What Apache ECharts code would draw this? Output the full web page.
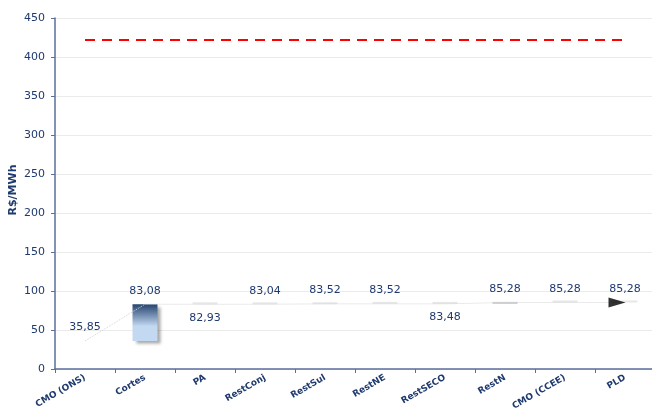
<!DOCTYPE html>
<html>
<head>
<meta charset="utf-8">
<script src="https://cdn.jsdelivr.net/npm/echarts@6/dist/echarts.min.js"></script>
<style>
  html, body { margin: 0; padding: 0; background: #fff; }
  #chart { width: 652px; height: 412px; }
</style>
</head>
<body>
<div id="chart"></div>
<script>
  // categories and values
  const categories = ['CMO (ONS)', 'Cortes', 'PA', 'RestConj', 'RestSul', 'RestNE', 'RestSECO', 'RestN', 'CMO (CCEE)', 'PLD'];
  const values = [35.85, 83.08, 82.93, 83.04, 83.52, 83.52, 83.48, 85.28, 85.28, 85.28];
  const pldMax = 422.56;
  const yTicks = { min: 0, max: 450, interval: 50 };
  const yName = 'R$/MWh';

  const navy = '#1f3a6e';
  const axisColor = '#5b6f9c';
  const last = values.length - 1;

  // waterfall: invisible base + visible step
  const base = values.map((v, i) => i === 0 ? 0 : Math.min(values[i - 1], v));
  const step = values.map((v, i) => i === 0 ? v : Math.abs(v - values[i - 1]));

  const stepData = step.map((v, i) => {
    if (i === 0) return { value: v, itemStyle: { color: 'rgba(0,0,0,0)' } };
    if (i === 1) return {
      value: v,
      itemStyle: {
        color: new echarts.graphic.LinearGradient(0, 0, 0, 1, [
          { offset: 0, color: '#24436f' },
          { offset: 0.6, color: '#c3d9f1' },
          { offset: 1, color: '#c3d9f1' }
        ]),
        shadowColor: 'rgba(0,0,0,0.35)',
        shadowBlur: 3,
        shadowOffsetX: 3,
        shadowOffsetY: 3
      }
    };
    return { value: v, itemStyle: { color: i === 7 ? 'rgba(190,190,190,0.8)' : 'rgba(215,215,215,0.6)' } };
  });

  const lineData = values.map((v, i) => {
    const down = i > 0 && v < values[i - 1];
    return { value: v, label: { position: down ? 'bottom' : 'top' } };
  });

  const arrowData = values.map((v, i) => i === last ? v : '-');

  const chart = echarts.init(document.getElementById('chart'));
  chart.setOption({
    animation: false,
    textStyle: { fontFamily: 'DejaVu Sans' },
    grid: { left: 55, top: 18, width: 600, bottom: 43, containLabel: false, outerBoundsMode: 'none' },
    // y axis title, placed by hand so v6 does not push it away from the labels
    graphic: [{
      type: 'text',
      x: 13, y: 190,
      rotation: Math.PI / 2,
      style: {
        text: yName, fill: navy,
        font: 'bold 11px "DejaVu Sans"',
        align: 'center', verticalAlign: 'middle'
      }
    }],
    xAxis: {
      type: 'category',
      data: categories,
      axisLine: { lineStyle: { color: axisColor, width: 1.5 } },
      axisTick: { show: true, length: 4, interval: 0, lineStyle: { color: axisColor } },
      axisLabel: {
        interval: 0, rotate: 30, margin: 8,
        color: navy, fontSize: 9, fontWeight: 'bold'
      }
    },
    yAxis: {
      type: 'value',
      min: yTicks.min, max: yTicks.max, interval: yTicks.interval,
      axisLine: { show: true, lineStyle: { color: axisColor, width: 1.5 } },
      axisTick: { show: true, length: 4, lineStyle: { color: axisColor } },
      axisLabel: { color: navy, fontSize: 11, margin: 10 },
      splitLine: { lineStyle: { color: '#ebebeb' } }
    },
    series: [
      {
        type: 'bar', stack: 'w', barWidth: 25,
        data: base,
        itemStyle: { color: 'rgba(0,0,0,0)' },
        silent: true
      },
      {
        type: 'bar', stack: 'w', barWidth: 25,
        barMinHeight: 2,
        data: stepData
      },
      {
        type: 'line',
        data: lineData,
        symbol: 'circle',
        symbolSize: 2,
        showAllSymbol: true,
        itemStyle: { color: 'rgba(0,0,0,0)' },
        lineStyle: { color: '#d4d4d4', width: 1, type: 'dotted' },
        labelLayout: { hideOverlap: false },
        label: {
          show: true, distance: 7,
          color: navy, fontSize: 11,
          formatter: p => p.value.toFixed(2).replace('.', ',')
        },
        markLine: {
          silent: true,
          symbol: 'none',
          label: { show: false },
          lineStyle: { color: '#ff0000', width: 2, type: [10, 7] },
          data: [[{ coord: [0, pldMax] }, { coord: [last, pldMax] }]]
        },
        z: 5
      },
      {
        type: 'scatter',
        data: arrowData,
        symbol: 'triangle',
        symbolRotate: -90,
        symbolSize: [10, 17],
        symbolOffset: [-8, 0],
        itemStyle: { color: '#000' },
        silent: true,
        z: 6
      }
    ]
  });
</script>
</body>
</html>
